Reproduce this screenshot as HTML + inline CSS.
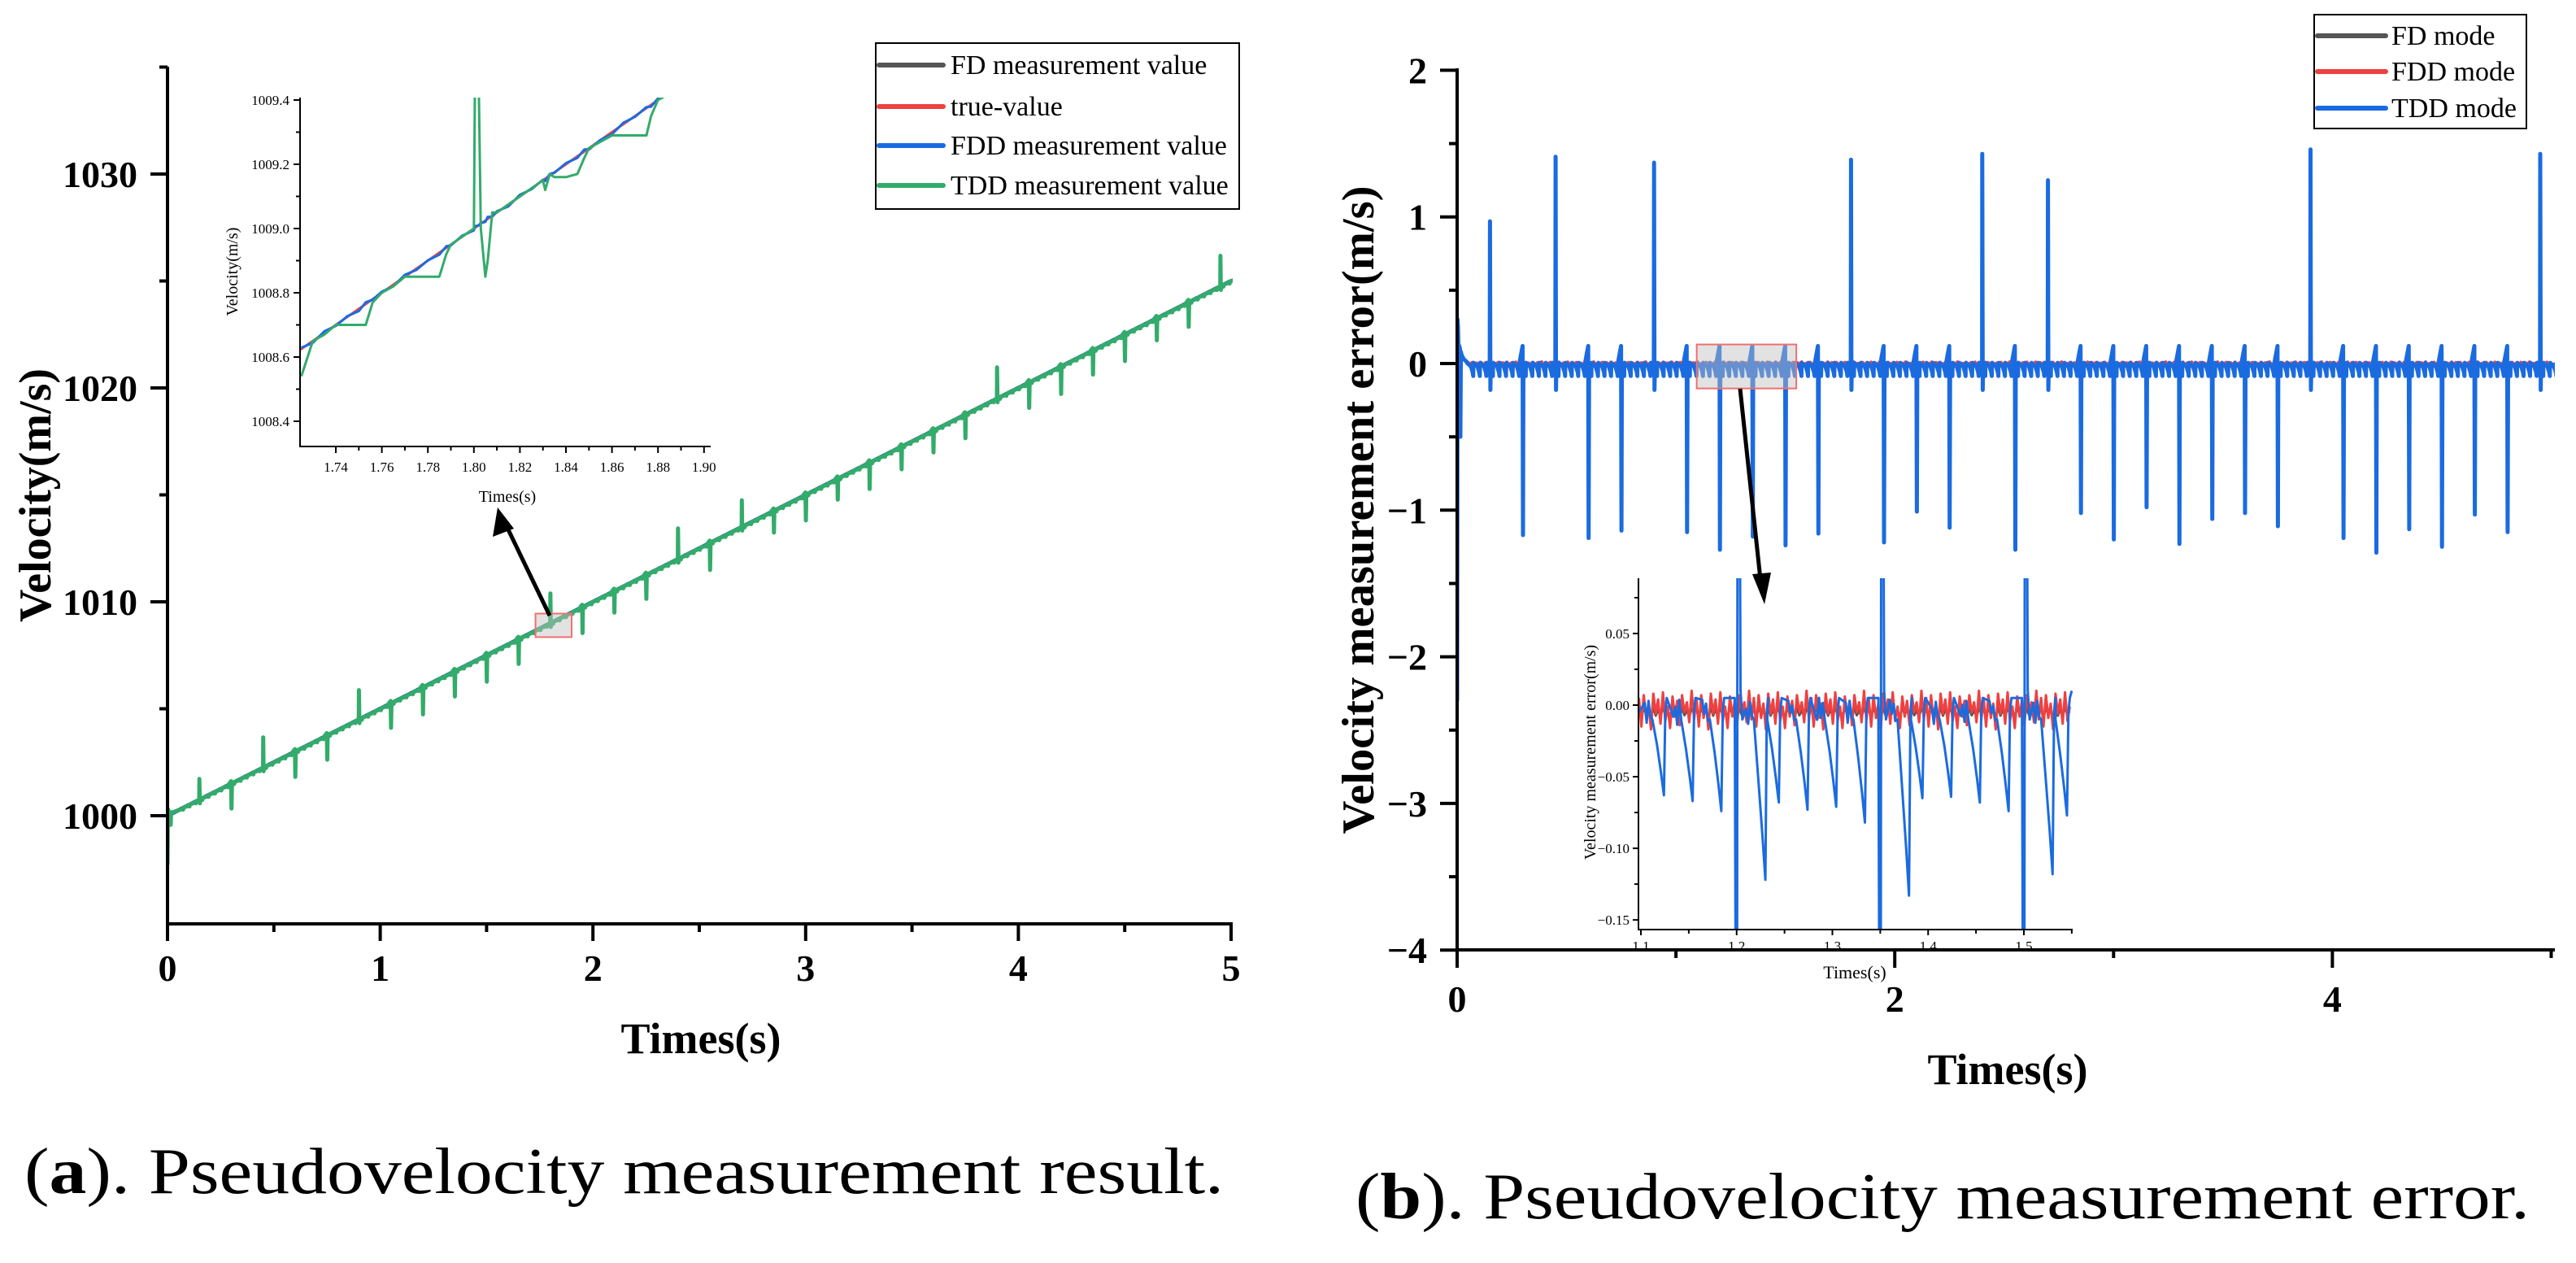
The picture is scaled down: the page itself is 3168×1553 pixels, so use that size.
<!DOCTYPE html>
<html><head><meta charset="utf-8"><style>
html,body{margin:0;padding:0;background:#fff}
svg{display:block}
text{font-family:"Liberation Serif",serif;fill:#000}
.b{font-weight:bold}
</style></head><body>
<svg id="fig" width="3168" height="1553" viewBox="0 0 3168 1553" xmlns="http://www.w3.org/2000/svg">
<defs>
<clipPath id="cL"><rect x="206" y="82" width="1310" height="1054"/></clipPath>
<clipPath id="cLI"><rect x="369" y="120" width="505" height="429"/></clipPath>
<clipPath id="cR"><rect x="1792" y="82" width="1350" height="1086"/></clipPath>
<clipPath id="cRI"><rect x="2015" y="711" width="534" height="432"/></clipPath>
</defs>
<g id="chartA"></g>
<g id="chartB"></g>
<text x="30" y="1467" font-size="80" textLength="1475" lengthAdjust="spacingAndGlyphs">(<tspan class="b">a</tspan>). Pseudovelocity measurement result.</text>
<text x="1667" y="1498" font-size="80" textLength="1444" lengthAdjust="spacingAndGlyphs">(<tspan class="b">b</tspan>). Pseudovelocity measurement error.</text>
</svg>
<script>
// ---- data ----
const spikeTimes=[0.15,0.30,0.45,0.60,0.75,0.90,1.05,1.20,1.35,1.50,1.65,1.80,1.95,2.10,2.25,2.40,2.55,2.70,2.85,3.00,3.15,3.30,3.45,3.60,3.75,3.90,4.05,4.20,4.35,4.50,4.65,4.80,4.95];
const spikeValues=[0.97,-1.17,1.41,-1.19,-1.14,1.37,-1.15,-1.27,-1.18,-1.24,-1.16,1.39,-1.22,-1.01,-1.12,1.43,-1.27,1.25,-1.02,-1.20,-0.98,-1.23,-1.06,-1.02,-1.11,1.46,-1.19,-1.29,-1.13,-1.25,-1.03,-1.15,1.43];
const startTimes=[0,0.002,0.004,0.007,0.010,0.013,0.015,0.017,0.020,0.030,0.045];
const startErrors=[-2.3,0.3,0.25,0.05,0.12,0.1,-0.5,0.08,0.06,0.03,0.01];
const ripplePattern=[0.005,-0.02,-0.06,-0.085,0.0];
const ripplePhase=[0,0.6,0.87,0.95,0.98];
const ripplePeriod=0.03;
const trueStart=1000, trueSlope=5;
const noiseValues=[0.008,-0.012,0.01,-0.006,0.004,-0.014,0.011,-0.003,0.007,-0.01,0.012,-0.008,0.002,-0.013,0.009,-0.005,0.006,-0.011,0.01,-0.002,0.005,-0.009,0.013,-0.007];
const insetATimes=[1.725,1.73,1.735,1.74,1.745,1.75,1.753,1.756,1.76,1.765,1.77,1.775,1.78,1.785,1.788,1.79,1.795,1.80,1.8005,1.802,1.803,1.805,1.806,1.808,1.81,1.815,1.82,1.825,1.83,1.831,1.833,1.835,1.84,1.845,1.848,1.85,1.855,1.86,1.865,1.87,1.875,1.877,1.88,1.885];
const insetATdd=[1008.54,1008.65,1008.67,1008.70,1008.70,1008.70,1008.70,1008.77,1008.80,1008.82,1008.85,1008.85,1008.85,1008.85,1008.92,1008.95,1008.975,1009.0,1009.5,1009.5,1009.0,1008.85,1008.9,1009.05,1009.05,1009.075,1009.1,1009.125,1009.15,1009.12,1009.17,1009.16,1009.16,1009.17,1009.22,1009.25,1009.27,1009.29,1009.29,1009.29,1009.29,1009.35,1009.4,1009.42];
const insetBDipTimes=[1.124,1.154,1.184,1.230,1.244,1.274,1.304,1.334,1.380,1.394,1.424,1.454,1.484,1.530,1.545];
const insetBDipDepths=[-0.063,-0.067,-0.074,-0.122,-0.068,-0.073,-0.071,-0.082,-0.133,-0.065,-0.064,-0.068,-0.074,-0.118,-0.077];
const insetBSpikeTimes=[1.2,1.35,1.5];
const ticksAx=[0,1,2,3,4,5], ticksAy=[1000,1010,1020,1030];
const ticksAIx=[1.74,1.76,1.78,1.80,1.82,1.84,1.86,1.88,1.90], ticksAIy=[1008.4,1008.6,1008.8,1009.0,1009.2,1009.4];
const ticksBx=[0,2,4], ticksBy=[2,1,0,-1,-2,-3,-4];
const ticksBIx=[1.1,1.2,1.3,1.4,1.5], ticksBIy=[0.05,0.00,-0.05,-0.10,-0.15];
const legendA=["FD measurement value","true-value","FDD measurement value","TDD measurement value"];
const legendB=["FD mode","FDD mode","TDD mode"];
const C={fd:"#555555",red:"#f04040",blue:"#1b6be0",green:"#33ab6b"};

// ---- scales ----
const xA=t=>206+t*261.6, yA=v=>1003-(v-1000)*26.3;
const xAI=t=>413+(t-1.74)*2830, yAI=v=>123+(1009.4-v)*395;
const xB=t=>1792+t*269.1, yB=e=>447-e*180.3;
const xBI=t=>2018+(t-1.1)*1177.5, yBI=e=>867-e*1761;

const NS="http://www.w3.org/2000/svg";
function mk(parent,tag,attrs){const e=document.createElementNS(NS,tag);for(const k in attrs)e.setAttribute(k,attrs[k]);parent.appendChild(e);return e;}
function pathD(pts,fx,fy){return pts.map((p,i)=>(i?"L":"M")+fx(p[0]).toFixed(1)+" "+fy(p[1]).toFixed(1)).join("");}

function tddError(){
  const pts=[];
  for(let i=0;i<startTimes.length;i++)pts.push([startTimes[i],startErrors[i]]);
  const events=spikeTimes.map((t,i)=>({t,v:spikeValues[i]}));
  let p=0.045, si=0;
  while(p<5.0){
    for(let j=0;j<ripplePattern.length;j++){
      const t=p+ripplePhase[j]*ripplePeriod;
      while(si<events.length&&events[si].t<=t){
        const ev=events[si];
        if(ev.v>0){pts.push([ev.t-0.001,0],[ev.t,ev.v],[ev.t+0.002,-0.18],[ev.t+0.004,0]);}
        else{pts.push([ev.t-0.001,0.12],[ev.t+0.001,ev.v],[ev.t+0.003,0]);}
        si++;
      }
      pts.push([t,ripplePattern[j]]);
    }
    p+=ripplePeriod;
  }
  pts.push([5.0,-0.02]);
  return pts;
}
const errPts=tddError();

function axisLine(g,x1,y1,x2,y2,w,name){const l=mk(g,"line",{x1,y1,x2,y2,stroke:"#000","stroke-width":w});

}
function label(g,x,y,txt,size,anchor,bold,name){const t=mk(g,"text",{x,y,"font-size":size,"text-anchor":anchor});if(bold)t.setAttribute("class","b");t.textContent=txt;

return t;}
function series(g,pts,fx,fy,color,w,clip,name){const p=mk(g,"path",{d:pathD(pts,fx,fy),fill:"none",stroke:color,"stroke-width":w,"stroke-linejoin":"round","clip-path":"url(#"+clip+")"});

}
function legend(g,x,y,w,h,rows,colors,rowY,lineX1,lineX2,textX,fs,name){
  const r=mk(g,"rect",{x,y,width:w,height:h,fill:"#fff",stroke:"#000","stroke-width":2});
  
  
  rows.forEach((s,i)=>{const l=mk(g,"line",{x1:lineX1,x2:lineX2,y1:rowY[i],y2:rowY[i],stroke:colors[i],"stroke-width":6,"stroke-linecap":"round"});
  
  
  label(g,textX,rowY[i]+fs*0.33,s,fs,"start",false,'legend-entry');});
}

// ================= Chart A =================
const gA=document.getElementById("chartA");
const truePts=[[0,trueStart],[5,trueStart+5*trueSlope]];
series(gA,truePts,xA,yA,C.fd,5,"cL","fd-series");
series(gA,truePts,xA,yA,C.red,5,"cL","true-series");
series(gA,truePts,xA,yA,C.blue,5,"cL","fdd-series");
series(gA,errPts.map(p=>[p[0],trueStart+trueSlope*p[0]+p[1]]),xA,yA,C.green,5,"cL","tdd-series");
const bx=mk(gA,"rect",{x:xA(1.73),y:yA(1009.45),width:xA(1.9)-xA(1.73),height:yA(1008.35)-yA(1009.45),fill:"rgba(190,190,190,0.45)",stroke:"#f07070","stroke-width":2});


axisLine(gA,676,757,622,645,5,'zoom-arrow');
const ah=mk(gA,"polygon",{points:"612,624 606,660 632,650",fill:"#000"});


axisLine(gA,206,82,206,1138,4,'y-axis');
axisLine(gA,204,1136,1516,1136,4,'x-axis');
ticksAx.forEach(t=>{axisLine(gA,xA(t),1136,xA(t),1157,4,'x-tick');label(gA,xA(t),1206,String(t),46,"middle",true,'x-tick-label');});
[0.5,1.5,2.5,3.5,4.5].forEach(t=>axisLine(gA,xA(t),1136,xA(t),1146,4,'x-minor-tick'));
ticksAy.forEach(v=>{axisLine(gA,185,yA(v),206,yA(v),4,'y-tick');label(gA,169,yA(v)+16,String(v),46,"end",true,'y-tick-label');});
[1005,1015,1025,1035].forEach(v=>axisLine(gA,196,yA(v),206,yA(v),4,'y-minor-tick'));
label(gA,862,1295,"Times(s)",54,"middle",true,'x-axis-title');
const ytA=label(gA,0,0,"Velocity(m/s)",56,"middle",true,'y-axis-title');ytA.setAttribute("transform","translate(62,609) rotate(-90)");
const gAI=mk(gA,"g",{});


const insLine=[[1.72,1000+1.72*5],[1.885,1000+1.885*5]];
series(gAI,insLine,xAI,yAI,C.red,3,"cLI","inset-true");
series(gAI,insetATimes.map((t,i)=>[t,1000+5*t+noiseValues[i%noiseValues.length]*0.5]),xAI,yAI,C.blue,3,"cLI","inset-fdd");
series(gAI,insetATimes.map((t,i)=>[t,insetATdd[i]]),xAI,yAI,C.green,3,"cLI","inset-tdd");
axisLine(gAI,369,120,369,550,2,'inset-y-axis');
axisLine(gAI,368,549,874,549,2,'inset-x-axis');
ticksAIx.forEach(t=>{axisLine(gAI,xAI(t),549,xAI(t),557,2,'inset-x-tick');label(gAI,xAI(t),580,t.toFixed(2),17,"middle",false,'inset-x-tick-label');});
ticksAIx.slice(0,-1).forEach(t=>axisLine(gAI,xAI(t+0.01),549,xAI(t+0.01),554,2,'inset-x-minor-tick'));
ticksAIy.forEach(v=>{axisLine(gAI,361,yAI(v),369,yAI(v),2,'inset-y-tick');label(gAI,356,yAI(v)+6,v.toFixed(1),17,"end",false,'inset-y-tick-label');});
ticksAIy.slice(0,-1).forEach(v=>axisLine(gAI,364,yAI(v+0.1),369,yAI(v+0.1),2,'inset-y-minor-tick'));
label(gAI,624,617,"Times(s)",20,"middle",false,'inset-x-title');
const ytAI=label(gAI,0,0,"Velocity(m/s)",20,"middle",false,'inset-y-title');ytAI.setAttribute("transform","translate(292,334) rotate(-90)");
legend(gA,1077,53,447,204,legendA,[C.fd,C.red,C.blue,C.green],[80,131,179,228],1081,1160,1169,34,'legend-a');

// ================= Chart B =================
const gB=document.getElementById("chartB");
const fdPts=[],fddPts=[];
for(let i=0;i<=500;i++){const t=0.05+i*0.0099;fdPts.push([t,-0.003+noiseValues[i%24]*0.3]);fddPts.push([t,noiseValues[(i*7)%24]*0.8]);}
series(gB,fdPts,xB,yB,C.fd,4,"cR","fd-error-series");
series(gB,fddPts,xB,yB,C.red,4,"cR","fdd-error-series");
series(gB,errPts,xB,yB,C.blue,5,"cR","tdd-error-series");
const bx2=mk(gB,"rect",{x:xB(1.095),y:yB(0.13),width:xB(1.55)-xB(1.095),height:yB(-0.17)-yB(0.13),fill:"rgba(190,190,190,0.45)",stroke:"#f07070","stroke-width":2});


axisLine(gB,2140,478,2166,722,5,'zoom-arrow');
const ah2=mk(gB,"polygon",{points:"2170,743 2155,706 2178,704",fill:"#000"});


axisLine(gB,1792,84,1792,1170,4,'y-axis');
axisLine(gB,1790,1168,3142,1168,4,'x-axis');
ticksBx.forEach(t=>{axisLine(gB,xB(t),1168,xB(t),1190,4,'x-tick');label(gB,xB(t),1244,String(t),46,"middle",true,'x-tick-label');});
[1,3,5].forEach(t=>axisLine(gB,xB(t),1168,xB(t),1178,4,'x-minor-tick'));
ticksBy.forEach(v=>{axisLine(gB,1771,yB(v),1792,yB(v),4,'y-tick');label(gB,1755,yB(v)+16,(v<0?"\u2212":"")+Math.abs(v),46,"end",true,'y-tick-label');});
[1.5,0.5,-0.5,-1.5,-2.5,-3.5].forEach(v=>axisLine(gB,1782,yB(v),1792,yB(v),4,'y-minor-tick'));
label(gB,2469,1333,"Times(s)",54,"middle",true,'x-axis-title');
const ytB=label(gB,0,0,"Velocity measurement error(m/s)",56,"middle",true,'y-axis-title');ytB.setAttribute("transform","translate(1689,627) rotate(-90)");ytB.setAttribute("textLength","797");ytB.setAttribute("lengthAdjust","spacingAndGlyphs");
// inset B
const gBI=mk(gB,"g",{});


const iFd=[],iFdd=[],iTdd=[];
for(let i=0;i<=180;i++){const t=1.098+i*0.0025;iFd.push([t,-0.005+noiseValues[(i*5)%24]*0.3]);iFdd.push([t,-0.003+noiseValues[i%24]]);}
iTdd.push([1.098,-0.005]);
const evs=[];
insetBDipTimes.forEach((td,i)=>evs.push({t:td,d:insetBDipDepths[i],s:false}));
insetBSpikeTimes.forEach(ts=>evs.push({t:ts,s:true}));
evs.sort((a,b)=>a.t-b.t);
let last=1.098;
evs.forEach((ev,i)=>{
  if(ev.s){iTdd.push([ev.t-0.002,0.005],[ev.t-0.001,-0.2],[ev.t+0.0005,-0.2],[ev.t+0.001,0.2],[ev.t+0.003,0.2],[ev.t+0.004,0.01],[ev.t+0.006,-0.01]);last=ev.t+0.006;return;}
  const st=Math.max(last,ev.t-0.02);
  for(let k=0;k<4;k++){const tt=st+(ev.t-0.012-st)*k/4;if(tt>last)iTdd.push([tt,-0.004+noiseValues[(i*3+k)%24]*0.7]);}
  iTdd.push([ev.t-0.012,-0.01],[ev.t-0.007,ev.d*0.45],[ev.t-0.003,ev.d*0.75],[ev.t,ev.d],[ev.t+0.0015,-0.005],[ev.t+0.003,0.005]);
  last=ev.t+0.003;
});
iTdd.push([1.55,0.01]);
series(gBI,iFd,xBI,yBI,C.fd,3,"cRI","inset-fd");
series(gBI,iFdd,xBI,yBI,C.red,3,"cRI","inset-fdd");
series(gBI,iTdd,xBI,yBI,C.blue,3,"cRI","inset-tdd");
axisLine(gBI,2015,711,2015,1144,2,'inset-y-axis');
axisLine(gBI,2014,1143,2549,1143,2,'inset-x-axis');
ticksBIx.forEach(t=>{axisLine(gBI,xBI(t),1143,xBI(t),1150,2,'inset-x-tick');label(gBI,xBI(t),1169,t.toFixed(1),17,"middle",false,'inset-x-tick-label');});
[1.15,1.25,1.35,1.45,1.55].forEach(t=>axisLine(gBI,xBI(t),1143,xBI(t),1148,2,'inset-x-minor-tick'));
ticksBIy.forEach(v=>{axisLine(gBI,2008,yBI(v),2015,yBI(v),2,'inset-y-tick');label(gBI,2004,yBI(v)+6,(v<0?"\u2212":"")+Math.abs(v).toFixed(2),17,"end",false,'inset-y-tick-label');});
[0.075,0.025,-0.025,-0.075,-0.125].forEach(v=>axisLine(gBI,2010,yBI(v),2015,yBI(v),2,'inset-y-minor-tick'));
label(gBI,2281,1203,"Times(s)",22,"middle",false,'inset-x-title');
const ytBI=label(gBI,0,0,"Velocity measurement error(m/s)",20,"middle",false,'inset-y-title');ytBI.setAttribute("transform","translate(1962,925) rotate(-90)");
legend(gB,2846,18,261,140,legendB,[C.fd,C.red,C.blue],[44,88,133],2850,2934,2941,34,'legend-b');
</script>
</body></html>
